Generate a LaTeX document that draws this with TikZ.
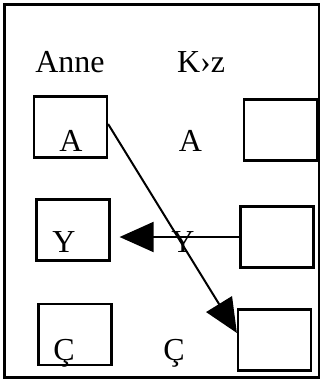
\documentclass[tikz,border=0pt]{standalone}
\usepackage{fontspec}
\setmainfont{Liberation Serif}
\usetikzlibrary{arrows.meta}

\begin{document}
\begin{tikzpicture}[x=1pt, y=-1pt,
        cell/.style = {draw, line width = 2.2pt, minimum width = 73pt, minimum height = 61pt, inner sep = 0pt},
        word/.style = {anchor = base, inner sep = 0pt, font = \fontsize{32}{33}\selectfont},
        big/.style = {-{Triangle[length = 34pt, width = 30pt]}, line width = 2pt}]
        \useasboundingbox (0, 0) rectangle (320, 381);
        \draw[line width = 3pt] (4, 4) rectangle (319, 377);

        \node[word] (anne) at (70, 72) {Anne};
        \node[word] (kiz) at (201, 72) {K›z};

        \node[cell] (lA) at (70.5, 127) {};
        \node[cell] (lY) at (73, 230) {};
        \node[cell] (lC) at (75, 334.5) {};

        \node[cell] (rA) at (280.5, 130) {};
        \node[cell] (rB) at (277, 237) {};
        \node[cell] (rC) at (274.5, 340) {};

        \node[word] (tA) at (71, 151) {A};
        \node[word] (tY) at (64, 252) {Y};
        \node[word] (tC) at (64, 360) {Ç};

        \node[word] (mA) at (190.5, 151) {A};
        \node[word] (mY) at (183, 252) {Y};
        \node[word] (mC) at (174, 360) {Ç};

        \draw[big] ([yshift = 3pt]lA.east) -- ([yshift = 7pt]rC.west);
        \draw[big] (rB.west) -- ([xshift = 9pt, yshift = -7pt]lY.east);
\end{tikzpicture}
\end{document}
